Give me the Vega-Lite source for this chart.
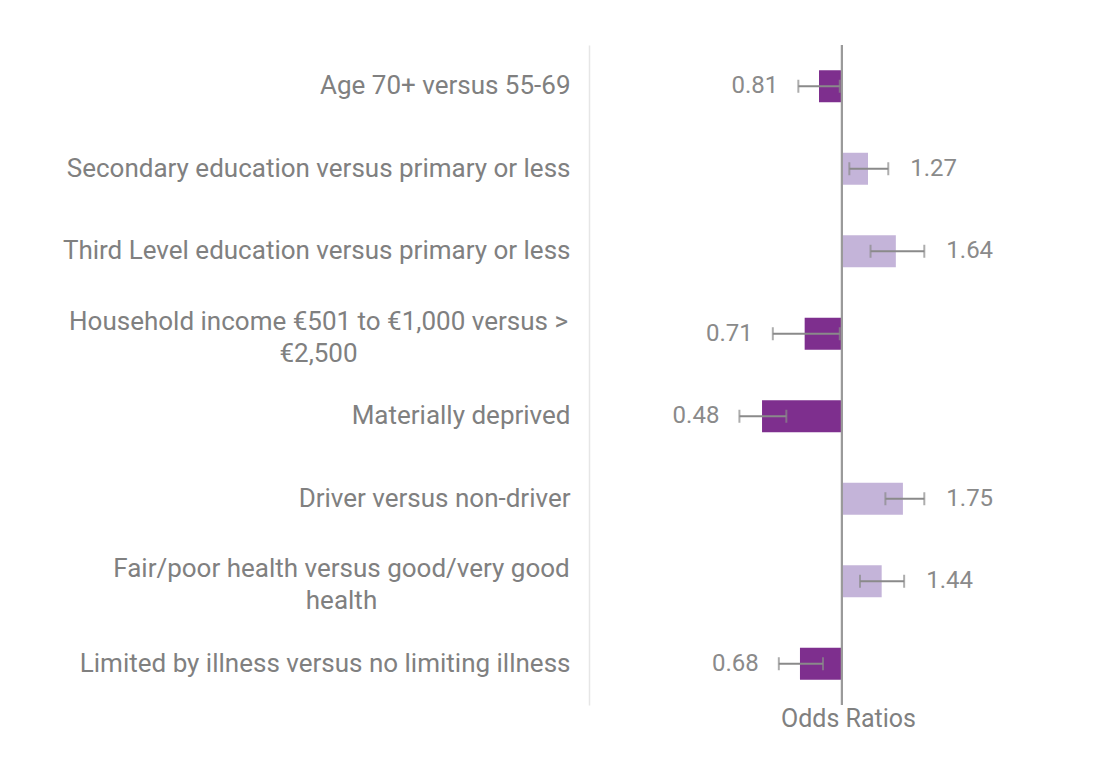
{
  "$schema": "https://vega.github.io/schema/vega-lite/v6.json",
  "autosize": {"type": "none"},
  "width": 518,
  "height": 660,
  "padding": {"left": 589, "top": 45, "right": 9, "bottom": 65},
  "background": "#ffffff",
  "config": {
    "view": {"stroke": null},
    "font": "Roboto",
    "text": {"font": "Roboto"}
  },
  "data": {
    "values": [
      {"label": "Age 70+ versus 55-69", "or": 0.81, "lo": 0.67, "hi": 0.98},
      {"label": "Secondary education versus primary or less", "or": 1.27, "lo": 1.07, "hi": 1.53},
      {"label": "Third Level education versus primary or less", "or": 1.64, "lo": 1.30, "hi": 2.13},
      {"label": "Household income €501 to €1,000 versus >\n€2,500", "or": 0.71, "lo": 0.53, "hi": 0.98},
      {"label": "Materially deprived", "or": 0.48, "lo": 0.39, "hi": 0.60},
      {"label": "Driver versus non-driver", "or": 1.75, "lo": 1.49, "hi": 2.13},
      {"label": "Fair/poor health versus good/very good\nhealth", "or": 1.44, "lo": 1.18, "hi": 1.77},
      {"label": "Limited by illness  versus no limiting illness", "or": 0.68, "lo": 0.56, "hi": 0.84}
    ]
  },
  "layer": [
    {
      "mark": {"type": "bar", "size": 32},
      "encoding": {
        "y": {
          "field": "label",
          "type": "nominal",
          "sort": null,
          "scale": {"paddingInner": 0, "paddingOuter": 0},
          "axis": {
            "title": null,
            "ticks": false,
            "grid": false,
            "domain": true,
            "domainColor": "#e6e6e6",
            "domainWidth": 1.5,
            "labelPadding": 19,
            "labelLimit": 0,
            "labelFont": "Roboto",
            "labelFontSize": 26,
            "labelColor": "#808080",
            "labelLineHeight": 32,
            "labelExpr": "split(datum.label, '\\n')",
            "encoding": {
              "labels": {
                "align": {"condition": {"test": "indexof(datum.value, '\\n') >= 0", "value": "center"}, "value": "right"},
                "dx": {"condition": [
                  {"test": "indexof(datum.value, 'Household') >= 0", "value": -252},
                  {"test": "indexof(datum.value, 'Fair/poor') >= 0", "value": -229}
                ], "value": 0},
                "dy": {"condition": {"test": "indexof(datum.value, '\\n') >= 0", "value": -12}, "value": 0}
              }
            }
          }
        },
        "x": {
          "field": "or",
          "type": "quantitative",
          "scale": {"type": "log", "domain": [0.098, 11.4], "nice": false},
          "axis": {
            "title": "Odds Ratios",
            "labels": false,
            "ticks": false,
            "domain": false,
            "grid": false,
            "titleFont": "Roboto",
            "titleFontSize": 25,
            "titleFontWeight": "normal",
            "titleColor": "#808080",
            "titlePadding": 1
          }
        },
        "x2": {"datum": 1},
        "color": {
          "condition": {"test": "datum.or < 1", "value": "#7e2f8e"},
          "value": "#c4b4d9"
        }
      }
    },
    {
      "mark": {"type": "rule", "color": "#9a9a9a", "strokeWidth": 2},
      "encoding": {"x": {"datum": 1}}
    },
    {
      "mark": {"type": "rule", "color": "#8a8a8a", "strokeWidth": 2},
      "encoding": {
        "y": {"field": "label", "type": "nominal", "sort": null},
        "x": {"field": "lo", "type": "quantitative"},
        "x2": {"field": "hi"}
      }
    },
    {
      "transform": [{"fold": ["lo", "hi"], "as": ["end", "ci"]}],
      "mark": {"type": "tick", "color": "#8a8a8a", "size": 13, "thickness": 2},
      "encoding": {
        "y": {"field": "label", "type": "nominal", "sort": null},
        "x": {"field": "ci", "type": "quantitative"}
      }
    },
    {
      "transform": [{"filter": "datum.or < 1"}],
      "mark": {"type": "text", "align": "right", "baseline": "middle", "dx": -20, "fontSize": 24, "color": "#8a8a8a", "font": "Roboto"},
      "encoding": {
        "y": {"field": "label", "type": "nominal", "sort": null},
        "x": {"field": "lo", "type": "quantitative"},
        "text": {"field": "or", "type": "quantitative", "format": ".2f"}
      }
    },
    {
      "transform": [{"filter": "datum.or >= 1"}],
      "mark": {"type": "text", "align": "left", "baseline": "middle", "dx": 22, "fontSize": 24, "color": "#8a8a8a", "font": "Roboto"},
      "encoding": {
        "y": {"field": "label", "type": "nominal", "sort": null},
        "x": {"field": "hi", "type": "quantitative"},
        "text": {"field": "or", "type": "quantitative", "format": ".2f"}
      }
    }
  ]
}
